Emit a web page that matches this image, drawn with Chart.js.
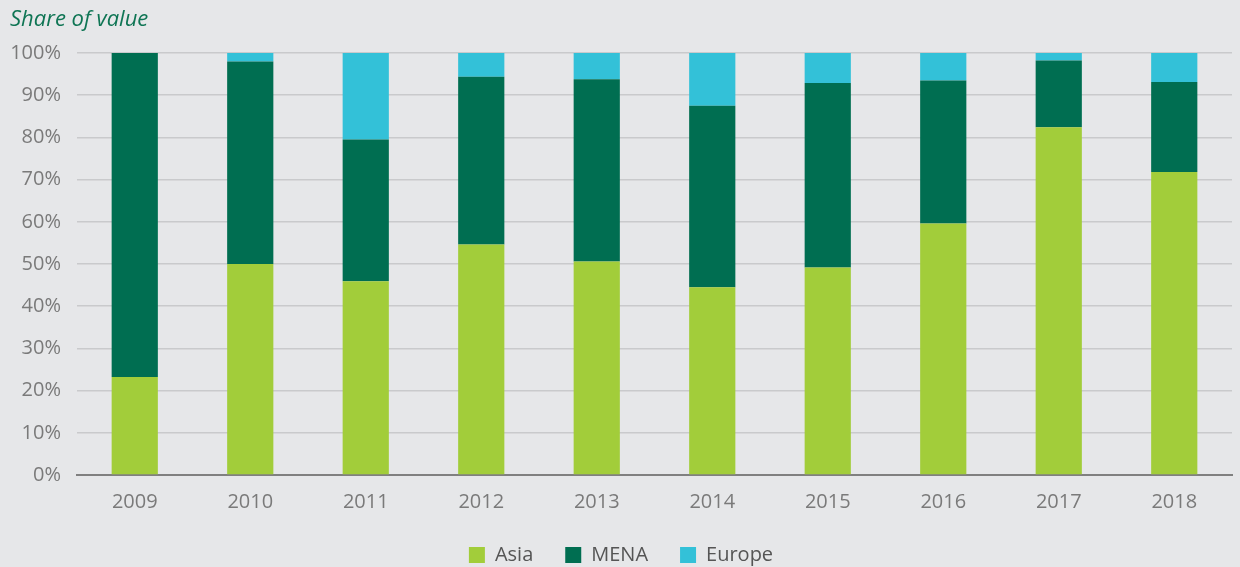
<!DOCTYPE html>
<html>
<head>
<meta charset="utf-8">
<script src="https://cdn.jsdelivr.net/npm/chart.js@4/dist/chart.umd.min.js"></script>
<style>
  html, body { margin: 0; padding: 0; background: #e6e7e9; }
  #wrap { width: 1240px; height: 567px; }
</style>
</head>
<body>
<div id="wrap"><canvas id="chart"></canvas></div>
<script>
// ----------------------- Data ----------------------------------
const years = ['2009', '2010', '2011', '2012', '2013', '2014', '2015', '2016', '2017', '2018'];
const asia = [23.2, 50.0, 45.9, 54.6, 50.6, 44.5, 49.2, 59.6, 82.4, 71.8];
const mena = [76.8, 48.0, 33.6, 39.8, 43.2, 43.0, 43.7, 33.9, 15.8, 21.3];
const europe = [0.0, 2.0, 20.5, 5.6, 6.2, 12.5, 7.1, 6.5, 1.8, 6.9];

// ----------------------- Chart ----------------------------------
const grey = '#7a7a7a';

new Chart(document.getElementById('chart'), {
  type: 'bar',
  data: {
    labels: years,
    datasets: [
      { label: 'Asia', data: asia, backgroundColor: '#a2cd3a' },
      { label: 'MENA', data: mena, backgroundColor: '#006e51' },
      { label: 'Europe', data: europe, backgroundColor: '#33c1d8' }
    ]
  },
  options: {
    responsive: true,
    maintainAspectRatio: false,
    animation: false,
    layout: { padding: { left: 10, right: 8, bottom: -8 } },
    datasets: {
      bar: { categoryPercentage: 1, barPercentage: 0.4 }
    },
    plugins: {
      title: {
        display: true,
        text: 'Share of value',
        align: 'start',
        color: '#0f7554',
        font: { family: '"Open Sans"', style: 'italic', size: 22, weight: 'normal' },
        padding: { top: 7, bottom: 19.6 }
      },
      legend: {
        position: 'bottom',
        labels: {
          color: '#555555',
          font: { family: '"Open Sans"', size: 20 },
          boxWidth: 16,
          boxHeight: 16,
          padding: 32
        }
      },
      tooltip: { enabled: false }
    },
    scales: {
      x: {
        stacked: true,
        // fixed axis height so the labels sit where the original has them
        afterFit: scale => { scale.height = 38; },
        grid: { display: false, drawTicks: false },
        border: { display: true, color: '#808080', width: 2 },
        ticks: { color: grey, font: { family: '"Open Sans"', size: 20, lineHeight: 1 }, padding: 17 }
      },
      y: {
        stacked: true,
        min: 0,
        max: 100,
        afterFit: scale => { scale.width = 67; },
        grid: { color: '#c9cacc', lineWidth: 1.5, drawTicks: false },
        border: { display: false },
        ticks: {
          stepSize: 10,
          color: grey,
          padding: 16,
          font: { family: '"Open Sans"', size: 20 },
          callback: v => v + '%'
        }
      }
    }
  }
});
</script>
</body>
</html>
